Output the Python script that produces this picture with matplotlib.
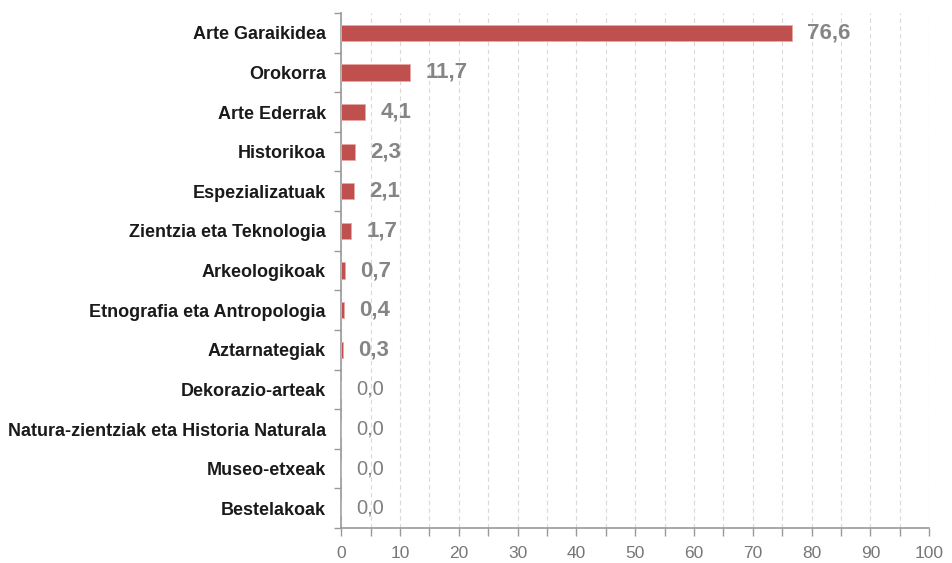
import numpy as np
import matplotlib.pyplot as plt
from matplotlib.ticker import MultipleLocator

plt.rcParams['font.family'] = ['Liberation Sans', 'DejaVu Sans']

categories = ['Arte Garaikidea', 'Orokorra', 'Arte Ederrak', 'Historikoa',
              'Espezializatuak', 'Zientzia eta Teknologia', 'Arkeologikoak',
              'Etnografia eta Antropologia', 'Aztarnategiak', 'Dekorazio-arteak',
              'Natura-zientziak eta Historia Naturala', 'Museo-etxeak', 'Bestelakoak']
values = [76.6, 11.7, 4.1, 2.3, 2.1, 1.7, 0.7, 0.4, 0.3, 0.0, 0.0, 0.0, 0.0]
xticks = [0, 10, 20, 30, 40, 50, 60, 70, 80, 90, 100]

fig = plt.figure(figsize=(9.53, 5.63), dpi=100)
ax = fig.add_axes([0.358, 0.062, 0.617, 0.915])

y = np.arange(len(categories))
ax.barh(y, values, height=0.41, color='#c0504d', edgecolor='#e8a8a6', linewidth=0.6, zorder=3)
ax.set_ylim(len(categories) - 0.5, -0.5)
ax.set_xlim(0, 100)

# data labels
for yi, v in zip(y, values):
    lbl = f'{v:.1f}'.replace('.', ',')
    if v > 0:
        ax.annotate(lbl, (v, yi), xytext=(11, 0), textcoords='offset points',
                    va='center', ha='left', fontsize=16, color='#858585', fontweight='bold')
    else:
        ax.annotate(lbl, (v, yi), xytext=(11, 0), textcoords='offset points',
                    va='center', ha='left', fontsize=14.5, color='#808080')

ax.set_yticks(y)
ax.set_yticklabels(categories, fontsize=13, fontweight='bold', color='#1a1a1a')
ax.set_yticks(np.arange(len(categories) + 1) - 0.5, minor=True)
ax.tick_params(axis='y', which='major', length=0, pad=11)
ax.tick_params(axis='y', which='minor', length=5, color='#999999', width=1)

ax.set_xticks(xticks)
ax.set_xticklabels([str(t) for t in xticks], fontsize=12.5, color='#777777')
ax.xaxis.set_minor_locator(MultipleLocator(5))
ax.tick_params(axis='x', which='both', length=6, color='#999999', width=1, pad=7)

ax.grid(axis='x', which='both', linestyle=(0, (4, 3)), color='#d9d9d9', linewidth=0.8, zorder=0)
for s in ['top', 'right']:
    ax.spines[s].set_visible(False)
ax.spines['left'].set_color('#999999')
ax.spines['bottom'].set_color('#999999')
ax.spines['left'].set_linewidth(1.2)
ax.spines['bottom'].set_linewidth(1.2)

fig.savefig('out.png', dpi=100)
